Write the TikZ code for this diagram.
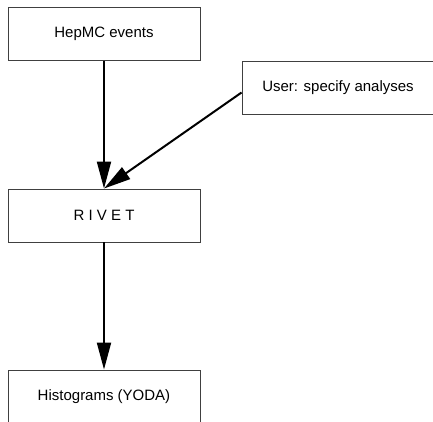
\documentclass[tikz,border=0pt]{standalone}
\usepackage{fontspec}
\setmainfont{Liberation Sans}
\usepackage{tikz}
\usetikzlibrary{arrows.meta,positioning}

\begin{document}
\begin{tikzpicture}[x=1pt,y=-1pt,
        box/.style={draw=black!75,line width=0.9pt,minimum width=192pt,minimum height=53pt,
            inner sep=0pt,font=\fontsize{15}{18}\selectfont},
        flow/.style={line width=2pt,-{Triangle[length=27pt,width=14pt]}}]
        \useasboundingbox (0,0) rectangle (433,421);

        \node[box] (hepmc) at (104,34) {HepMC events};
        \node[box] (user) at (338,87.5) {User: specify analyses};
        \node[box] (rivet) at (104,215.5) {R I V E T};
        \node[box] (histo) at (104,396.5) {Histograms (YODA)};

        \draw[flow] (hepmc.south) -- (rivet.north);
        \draw[flow] ([yshift=-5pt]user.west) -- (rivet.north);
        \draw[flow] (rivet.south) -- (histo.north);
    \end{tikzpicture}
\end{document}
